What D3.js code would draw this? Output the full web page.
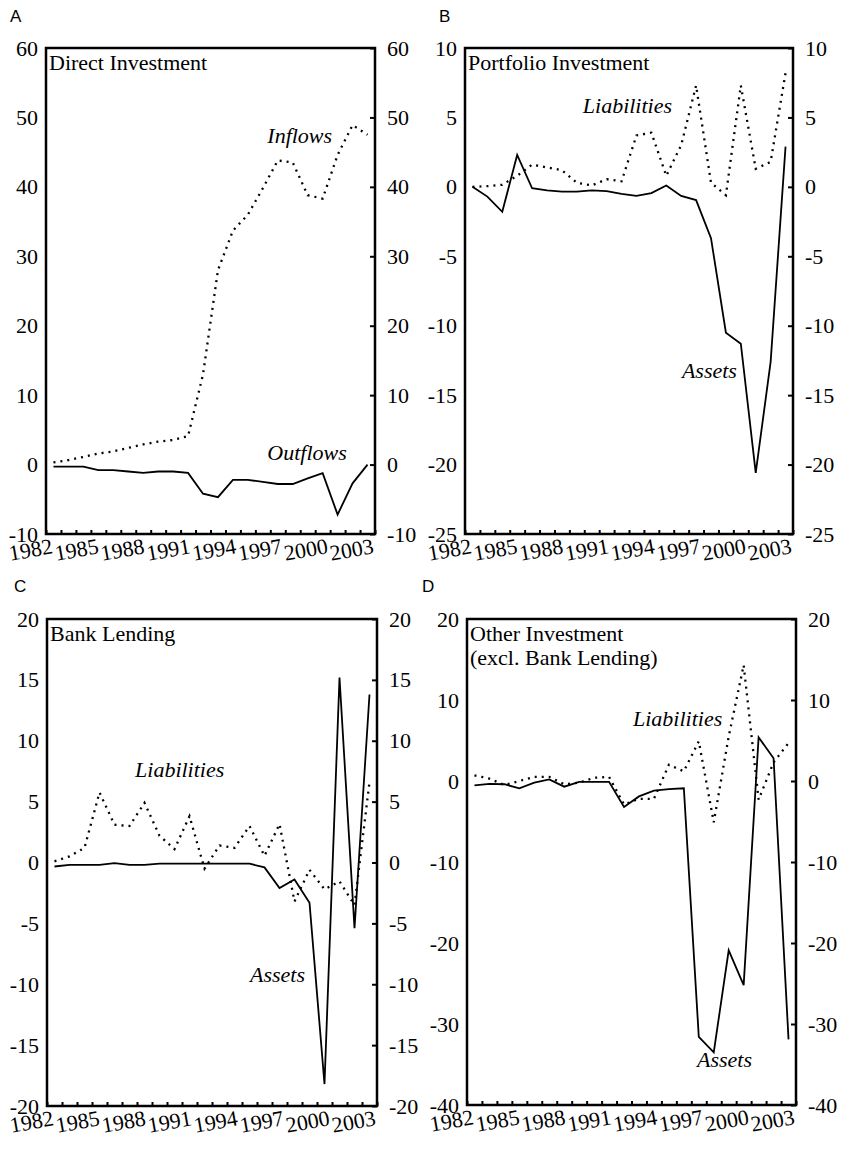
<!DOCTYPE html>
<html>
<head>
<meta charset="utf-8">
<script src="https://cdn.jsdelivr.net/npm/d3@7"></script>
<style>
  body { margin: 0; background: #fff; }
  svg { display: block; }
</style>
</head>
<body>
<script>
"use strict";

// categories
const years = [1982, 1983, 1984, 1985, 1986, 1987, 1988, 1989, 1990, 1991, 1992,
  1993, 1994, 1995, 1996, 1997, 1998, 1999, 2000, 2001, 2002, 2003];
const yearLabels = [1982, 1985, 1988, 1991, 1994, 1997, 2000, 2003];

// A: direct investment
const directInflows = [0.3, 0.65, 1.1, 1.6, 1.9, 2.4, 2.9, 3.3, 3.55, 4.1, 13, 28,
  33.7, 36, 39.8, 43.8, 43.5, 38.8, 38.3, 44.6, 48.9, 47.5];
const directOutflows = [-0.3, -0.3, -0.3, -0.8, -0.8, -1.0, -1.2, -1.0, -1.0, -1.2, -4.2, -4.7,
  -2.2, -2.2, -2.5, -2.8, -2.8, -2.0, -1.25, -7.2, -2.7, 0];
const directTicks = [-10, 0, 10, 20, 30, 40, 50, 60];

// B: portfolio investment
const portfolioLiabilities = [0, 0.05, 0.15, 0.8, 1.6, 1.4, 1.2, 0.3, 0.1, 0.55, 0.4, 3.7,
  3.9, 0.8, 3.0, 7.3, 0.3, -0.6, 7.3, 1.3, 1.8, 8.2];
const portfolioAssets = [0, -0.7, -1.8, 2.3, -0.1, -0.25, -0.35, -0.35, -0.25, -0.3, -0.5, -0.65,
  -0.45, 0.1, -0.65, -0.95, -3.7, -10.5, -11.3, -20.6, -12.6, 2.9];
const portfolioTicks = [-25, -20, -15, -10, -5, 0, 5, 10];

// C: bank lending
const bankLiabilities = [0.1, 0.5, 1.2, 5.75, 3.1, 3.0, 4.9, 2.2, 1.1, 3.8, -0.5, 1.4,
  1.2, 3.0, 0.55, 3.15, -3.2, -0.6, -2.2, -1.55, -3.5, 6.6];
const bankAssets = [-0.33, -0.2, -0.2, -0.2, -0.05, -0.2, -0.2, -0.1, -0.1, -0.1, -0.1, -0.1,
  -0.1, -0.1, -0.4, -2.1, -1.4, -3.3, -18.2, 15.2, -5.4, 13.8];
const bankTicks = [-20, -15, -10, -5, 0, 5, 10, 15, 20];

// D: other investment
const otherLiabilities = [0.7, 0.3, -0.5, 0, 0.5, 0.5, -0.4, -0.2, 0.4, 0.5, -2.9, -2.2,
  -2.2, 2.0, 1.2, 4.9, -5.1, 5.5, 14.3, -2.3, 2.3, 4.7];
const otherAssets = [-0.55, -0.35, -0.4, -0.9, -0.2, 0.2, -0.7, -0.1, -0.1, -0.1, -3.2, -1.9,
  -1.2, -1.0, -0.9, -31.6, -33.5, -20.9, -25.2, 5.4, 2.8, -31.9];
const otherTicks = [-40, -30, -20, -10, 0, 10, 20];

const W = 844, H = 1151;
const serif = '"Liberation Serif", "Times New Roman", serif';
const sans = '"Liberation Sans", Arial, sans-serif';

const panels = [
  { letter: "A", lx: 10, ly: 22, box: [46, 375, 48, 534], ticks: directTicks,
    title: ["Direct Investment"],
    lines: [{ v: directInflows, dot: true }, { v: directOutflows }],
    notes: [{ t: "Inflows", x: 1996.8, y: 46.3 }, { t: "Outflows", x: 1996.8, y: 0.6 }] },
  { letter: "B", lx: 439, ly: 22, box: [465, 793, 48, 534], ticks: portfolioTicks,
    title: ["Portfolio Investment"],
    lines: [{ v: portfolioLiabilities, dot: true }, { v: portfolioAssets }],
    notes: [{ t: "Liabilities", x: 1989.9, y: 5.33 }, { t: "Assets", x: 1996.55, y: -13.8 }] },
  { letter: "C", lx: 14, ly: 592, box: [47, 377, 619, 1106], ticks: bankTicks,
    title: ["Bank Lending"],
    lines: [{ v: bankLiabilities, dot: true }, { v: bankAssets }],
    notes: [{ t: "Liabilities", x: 1987.87, y: 7.06 }, { t: "Assets", x: 1995.53, y: -9.85 }] },
  { letter: "D", lx: 422, ly: 592, box: [467, 796, 619, 1105], ticks: otherTicks,
    title: ["Other Investment", "(excl. Bank Lending)"],
    lines: [{ v: otherLiabilities, dot: true }, { v: otherAssets }],
    notes: [{ t: "Liabilities", x: 1993.1, y: 6.8 }, { t: "Assets", x: 1997.38, y: -35.3 }] }
];

const svg = d3.select("body").append("svg").attr("width", W).attr("height", H);

panels.forEach(p => {
  const [l, r, t, b] = p.box;
  const g = svg.append("g");
  const x = d3.scaleLinear().domain([1982, 2004]).range([l, r]);
  const y = d3.scaleLinear().domain(d3.extent(p.ticks)).range([b, t]);

  // panel letter
  g.append("text").attr("x", p.lx).attr("y", p.ly)
    .style("font-family", sans).style("font-size", "17px").text(p.letter);

  // left axis labels
  g.append("g").attr("transform", `translate(${l},0)`)
    .call(d3.axisLeft(y).tickValues(p.ticks).tickSize(0).tickPadding(8).tickFormat(d => String(d)))
    .call(a => a.select(".domain").remove())
    .call(a => a.selectAll("text").style("font-family", serif).style("font-size", "22px"));

  // right axis with inward ticks
  g.append("g").attr("transform", `translate(${r},0)`)
    .call(d3.axisRight(y).tickValues(p.ticks).tickSize(-5).tickPadding(12).tickFormat(d => String(d)))
    .call(a => a.select(".domain").remove())
    .call(a => a.selectAll("line").attr("stroke-width", 2))
    .call(a => a.selectAll("text").style("font-family", serif).style("font-size", "22px"));

  // bottom ticks at year boundaries
  const boundaries = years.concat([2004]);
  g.append("g").attr("transform", `translate(0,${b})`)
    .call(d3.axisBottom(x).tickValues(boundaries).tickSize(-4).tickFormat(""))
    .call(a => a.select(".domain").remove())
    .call(a => a.selectAll("line").attr("stroke-width", 2));

  // year labels, slightly tilted like the print
  const lab = d3.scaleLinear().domain([1982, 2003]).range([l - 14, r - 22]);
  g.selectAll(".yl").data(yearLabels).join("text")
    .attr("class", "yl")
    .attr("text-anchor", "middle")
    .attr("transform", d => `translate(${lab(d)},${b + 23}) rotate(-10)`)
    .style("font-family", serif).style("font-size", "22px")
    .text(d => d);

  // lines
  const line = d3.line().x((d, i) => x(years[i] + 0.5)).y(d => y(d));
  p.lines.forEach(s => {
    g.append("path").datum(s.v)
      .attr("d", line)
      .attr("fill", "none")
      .attr("stroke", "#000")
      .attr("stroke-width", s.dot ? 2.3 : 1.8)
      .attr("stroke-dasharray", s.dot ? "2,5" : null)
      .attr("stroke-linejoin", "miter");
  });

  // frame
  g.append("rect").attr("x", l).attr("y", t).attr("width", r - l).attr("height", b - t)
    .attr("fill", "none").attr("stroke", "#000").attr("stroke-width", 2.5);

  // title
  p.title.forEach((s, i) => {
    g.append("text").attr("x", l + 3).attr("y", t + 22 + i * 24)
      .style("font-family", serif).style("font-size", "22px").text(s);
  });

  // series labels
  p.notes.forEach(n => {
    g.append("text").attr("x", x(n.x)).attr("y", y(n.y))
      .style("font-family", serif).style("font-size", "22px").style("font-style", "italic")
      .text(n.t);
  });
});
</script>
</body>
</html>
